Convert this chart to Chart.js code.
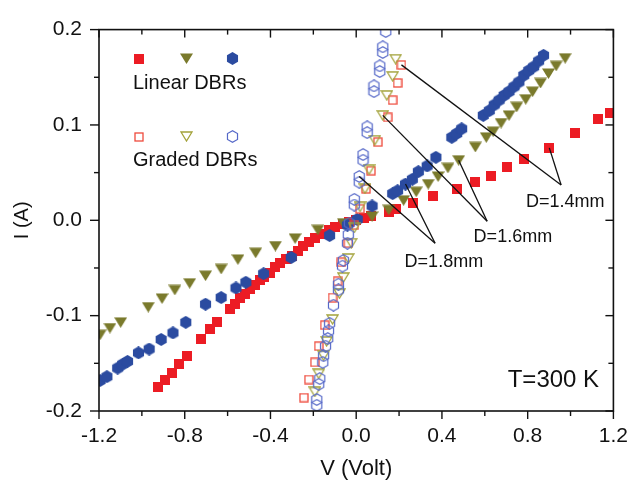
<!DOCTYPE html>
<html>
<head>
<meta charset="utf-8">
<script src="https://cdn.jsdelivr.net/npm/chart.js@4/dist/chart.umd.min.js"></script>
<style>
  html, body { margin: 0; padding: 0; background: #ffffff; }
  canvas { display: block; }
</style>
</head>
<body>
<canvas id="iv" width="641" height="490"></canvas>
<script>
// Axis tick values
const xTicks = [-1.2, -0.8, -0.4, 0.0, 0.4, 0.8, 1.2];
const yTicks = [-0.2, -0.1, 0.0, 0.1, 0.2];

// Linear DBRs (filled markers): voltage (V) and current (A)
const linRedV = [-0.924, -0.892, -0.860, -0.828, -0.791, -0.722, -0.680, -0.648, -0.589, -0.566, -0.543, -0.520, -0.497, -0.474, -0.451, -0.428, -0.400, -0.377, -0.354, -0.326, -0.299, -0.271, -0.248, -0.221, -0.193, -0.161, -0.129, -0.101, -0.060, -0.032, 0.000, 0.037, 0.069, 0.152, 0.184, 0.267, 0.359, 0.469, 0.552, 0.630, 0.703, 0.782, 0.901, 1.021, 1.126, 1.182];
const linRedI = [-0.175, -0.168, -0.160, -0.151, -0.142, -0.124, -0.114, -0.107, -0.093, -0.088, -0.082, -0.077, -0.072, -0.068, -0.063, -0.059, -0.055, -0.049, -0.045, -0.041, -0.037, -0.032, -0.027, -0.023, -0.019, -0.014, -0.010, -0.007, -0.004, -0.002, 0.000, 0.002, 0.004, 0.009, 0.012, 0.018, 0.025, 0.033, 0.040, 0.046, 0.056, 0.064, 0.076, 0.092, 0.106, 0.113];

const linOliveV = [-1.195, -1.149, -1.099, -0.970, -0.906, -0.846, -0.777, -0.703, -0.630, -0.552, -0.469, -0.377, -0.285, -0.179, -0.060, 0.074, 0.152, 0.221, 0.280, 0.336, 0.382, 0.428, 0.478, 0.556, 0.607, 0.639, 0.676, 0.713, 0.749, 0.791, 0.823, 0.860, 0.897, 0.933, 0.975];
const linOliveI = [-0.120, -0.113, -0.107, -0.091, -0.082, -0.073, -0.066, -0.058, -0.051, -0.041, -0.034, -0.027, -0.019, -0.010, -0.003, 0.004, 0.011, 0.021, 0.030, 0.038, 0.046, 0.055, 0.063, 0.077, 0.087, 0.093, 0.102, 0.110, 0.119, 0.127, 0.135, 0.144, 0.154, 0.162, 0.170];

const linBlueV = [-1.195, -1.163, -1.113, -1.090, -1.067, -1.016, -0.966, -0.910, -0.855, -0.795, -0.703, -0.630, -0.561, -0.515, -0.432, -0.303, -0.124, -0.041, 0.005, 0.074, 0.170, 0.193, 0.230, 0.262, 0.290, 0.331, 0.372, 0.446, 0.469, 0.492, 0.593, 0.621, 0.644, 0.667, 0.690, 0.713, 0.736, 0.759, 0.782, 0.805, 0.828, 0.851, 0.874];
const linBlueI = [-0.168, -0.164, -0.155, -0.151, -0.148, -0.139, -0.135, -0.125, -0.118, -0.107, -0.088, -0.081, -0.071, -0.065, -0.056, -0.039, -0.016, -0.005, 0.001, 0.015, 0.028, 0.031, 0.038, 0.043, 0.051, 0.057, 0.066, 0.087, 0.091, 0.096, 0.110, 0.115, 0.121, 0.126, 0.131, 0.135, 0.140, 0.145, 0.152, 0.157, 0.161, 0.167, 0.173];

// Graded DBRs (open markers)
const gradRedV = [-0.244, -0.221, -0.193, -0.175, -0.147, -0.110, -0.087, -0.069, -0.037, -0.009, 0.018, 0.046, 0.069, 0.101, 0.147, 0.170, 0.193, 0.211];
const gradRedI = [-0.186, -0.167, -0.149, -0.132, -0.110, -0.081, -0.064, -0.044, -0.024, -0.005, 0.012, 0.033, 0.052, 0.082, 0.108, 0.126, 0.144, 0.163];

const gradOliveV = [0.184, 0.170, 0.143, 0.124, 0.087, 0.060, 0.041, 0.018, -0.009, -0.023, -0.037, -0.060, -0.078, -0.110, -0.138, -0.152, -0.175, -0.193];
const gradOliveI = [0.169, 0.151, 0.131, 0.110, 0.084, 0.053, 0.033, 0.014, -0.008, -0.024, -0.040, -0.060, -0.077, -0.104, -0.127, -0.142, -0.161, -0.180];

const gradBlueV = [0.138, 0.124, 0.124, 0.110, 0.110, 0.083, 0.083, 0.051, 0.051, 0.032, 0.032, 0.014, 0.014, -0.009, -0.009, -0.032, -0.037, -0.041, -0.060, -0.064, -0.083, -0.083, -0.106, -0.124, -0.129, -0.133, -0.143, -0.152, -0.156, -0.170, -0.175, -0.184, -0.184];
const gradBlueI = [0.198, 0.182, 0.176, 0.162, 0.156, 0.141, 0.135, 0.098, 0.092, 0.069, 0.063, 0.046, 0.040, 0.022, 0.016, -0.003, -0.015, -0.024, -0.042, -0.048, -0.067, -0.073, -0.089, -0.108, -0.116, -0.124, -0.132, -0.142, -0.149, -0.166, -0.172, -0.188, -0.194];

const FONT = "'Liberation Sans', Arial, Helvetica, sans-serif";
const INK = '#111111';
const C = {
  red: '#ec1c24', olive: '#7a7a2c', blue: '#2b4ba0',
  openRed: '#ee4a3c', openOlive: '#a3a23a', openBlue: '#5568c8'
};

// ---- marker sprites ----
function sprite(w, h, paint) {
  const c = document.createElement('canvas');
  c.width = w; c.height = h;
  paint(c.getContext('2d'), w, h);
  return c;
}
function hexPath(g, cx, cy, r) {
  g.beginPath();
  for (let k = 0; k < 6; k++) {
    const a = Math.PI / 2 + k * Math.PI / 3;
    const px = cx + r * Math.cos(a), py = cy - r * Math.sin(a);
    if (k === 0) g.moveTo(px, py); else g.lineTo(px, py);
  }
  g.closePath();
}
const mk = {
  sqFill: sprite(10, 10, (g) => { g.fillStyle = C.red; g.fillRect(0, 0, 10, 10); }),
  sqOpen: sprite(10, 10, (g) => { g.strokeStyle = C.openRed; g.lineWidth = 1.3; g.strokeRect(1, 1, 8, 8); }),
  triFill: sprite(13, 11, (g) => {
    g.fillStyle = C.olive; g.beginPath(); g.moveTo(0, 0.5); g.lineTo(13, 0.5); g.lineTo(6.5, 11); g.closePath(); g.fill();
  }),
  triOpen: sprite(13, 11, (g) => {
    g.strokeStyle = C.openOlive; g.lineWidth = 1.3; g.beginPath(); g.moveTo(1, 1); g.lineTo(12, 1); g.lineTo(6.5, 10); g.closePath(); g.stroke();
  }),
  hexFill: sprite(13, 13, (g) => { g.fillStyle = C.blue; hexPath(g, 6.5, 6.5, 6.4); g.fill(); }),
  hexOpen: sprite(13, 13, (g) => { g.strokeStyle = C.openBlue; g.lineWidth = 1.2; hexPath(g, 6.5, 6.5, 5.8); g.stroke(); })
};

function pts(vs, is) { return vs.map((v, k) => ({ x: v, y: is[k] })); }
function series(label, vs, is, style, order) {
  return { label, data: pts(vs, is), pointStyle: style, pointRadius: 6, pointHoverRadius: 6, showLine: false, order };
}

// Diameter call-outs: label centre, apex of the two leader lines, and the points they tie together
const callouts = [
  { text: 'D=1.4mm', at: [0.975, 0.019], apex: [0.956, 0.037], ends: [[gradRedV, gradRedI, 17], [linRedV, linRedI, 42]] },
  { text: 'D=1.6mm', at: [0.731, -0.018], apex: [0.611, -0.001], ends: [[gradOliveV, gradOliveI, 3], [linOliveV, linOliveI, 22]] },
  { text: 'D=1.8mm', at: [0.409, -0.044], apex: [0.368, -0.024], ends: [[gradBlueV, gradBlueI, 11], [linBlueV, linBlueI, 22]] }
];

function midpoints(arr) {
  const out = [];
  for (let k = 0; k < arr.length - 1; k++) out.push((arr[k] + arr[k + 1]) / 2);
  return out;
}

const framePlugin = {
  id: 'frame',
  afterDatasetsDraw(chart) {
    const { ctx, chartArea: a, scales: { x, y } } = chart;
    ctx.save();
    ctx.strokeStyle = INK;
    ctx.lineCap = 'butt';

    // leader lines and labels
    ctx.lineWidth = 1.3;
    ctx.fillStyle = INK;
    ctx.font = '18px ' + FONT;
    ctx.textAlign = 'center';
    ctx.textBaseline = 'middle';
    callouts.forEach((c) => {
      const ax = x.getPixelForValue(c.apex[0]), ay = y.getPixelForValue(c.apex[1]);
      c.ends.forEach(([vs, is, k]) => {
        ctx.beginPath();
        ctx.moveTo(x.getPixelForValue(vs[k]), y.getPixelForValue(is[k]));
        ctx.lineTo(ax, ay);
        ctx.stroke();
      });
      ctx.fillText(c.text, x.getPixelForValue(c.at[0]), y.getPixelForValue(c.at[1]));
    });

    // temperature note
    ctx.font = '24px ' + FONT;
    ctx.fillText('T=300 K', a.right - 60, a.bottom - 31);

    // in-plot key
    const key = [
      { y: a.top + 29, marks: [mk.sqFill, mk.triFill, mk.hexFill], text: 'Linear DBRs', ty: a.top + 54 },
      { y: a.top + 107, marks: [mk.sqOpen, mk.triOpen, mk.hexOpen], text: 'Graded DBRs', ty: a.top + 131 }
    ];
    const keyX = [a.left + 40, a.left + 87, a.left + 133];
    ctx.font = '20px ' + FONT;
    ctx.textAlign = 'left';
    key.forEach((row) => {
      row.marks.forEach((m, k) => ctx.drawImage(m, Math.round(keyX[k] - m.width / 2), Math.round(row.y - m.height / 2)));
      ctx.fillText(row.text, a.left + 34, row.ty);
    });

    // box
    ctx.lineWidth = 1.6;
    ctx.strokeRect(a.left, a.top, a.right - a.left, a.bottom - a.top);

    // ticks: outward on left/bottom, inward on top/right
    const xMinor = midpoints(xTicks), yMinor = midpoints(yTicks);
    const tick = (x1, y1, x2, y2) => { ctx.beginPath(); ctx.moveTo(x1, y1); ctx.lineTo(x2, y2); ctx.stroke(); };
    ctx.lineWidth = 1.4;
    xTicks.forEach((v) => { const p = x.getPixelForValue(v); tick(p, a.bottom, p, a.bottom + 8); tick(p, a.top, p, a.top + 8); });
    xMinor.forEach((v) => { const p = x.getPixelForValue(v); tick(p, a.bottom, p, a.bottom + 5); tick(p, a.top, p, a.top + 5); });
    yTicks.forEach((v) => { const p = y.getPixelForValue(v); tick(a.left - 9, p, a.left, p); tick(a.right - 8, p, a.right, p); });
    yMinor.forEach((v) => { const p = y.getPixelForValue(v); tick(a.left - 5, p, a.left, p); tick(a.right - 5, p, a.right, p); });
    ctx.restore();
  }
};

new Chart(document.getElementById('iv').getContext('2d'), {
  type: 'scatter',
  data: {
    datasets: [
      series('Graded D=1.8mm', gradBlueV, gradBlueI, mk.hexOpen, 0),
      series('Graded D=1.6mm', gradOliveV, gradOliveI, mk.triOpen, 1),
      series('Graded D=1.4mm', gradRedV, gradRedI, mk.sqOpen, 2),
      series('Linear D=1.8mm', linBlueV, linBlueI, mk.hexFill, 3),
      series('Linear D=1.6mm', linOliveV, linOliveI, mk.triFill, 4),
      series('Linear D=1.4mm', linRedV, linRedI, mk.sqFill, 5)
    ]
  },
  options: {
    responsive: false,
    animation: false,
    events: [],
    layout: { padding: { top: 23, right: 20, left: 0, bottom: 0 } },
    plugins: { legend: { display: false }, tooltip: { enabled: false } },
    scales: {
      x: {
        type: 'linear', min: -1.2, max: 1.2,
        afterBuildTicks: (s) => { s.ticks = xTicks.map((v) => ({ value: v })); },
        afterFit: (s) => { s.height = 79; },
        grid: { display: false, drawTicks: false },
        border: { display: false },
        ticks: { padding: 13, autoSkip: false, maxRotation: 0, color: INK, font: { family: FONT, size: 21 }, callback: (v) => Number(v).toFixed(1) },
        title: { display: true, text: 'V (Volt)', color: INK, font: { family: FONT, size: 22 }, padding: { top: 0, bottom: 8 } }
      },
      y: {
        type: 'linear', min: -0.2, max: 0.2,
        afterBuildTicks: (s) => { s.ticks = yTicks.map((v) => ({ value: v })); },
        afterFit: (s) => { s.width = 99; },
        grid: { display: false, drawTicks: false },
        border: { display: false },
        ticks: { padding: 17, autoSkip: false, color: INK, font: { family: FONT, size: 21 }, callback: (v) => Number(v).toFixed(1) },
        title: { display: true, text: 'I (A)', color: INK, font: { family: FONT, size: 20 }, padding: { top: 10, bottom: 0 } }
      }
    }
  },
  plugins: [framePlugin]
});
</script>
</body>
</html>
